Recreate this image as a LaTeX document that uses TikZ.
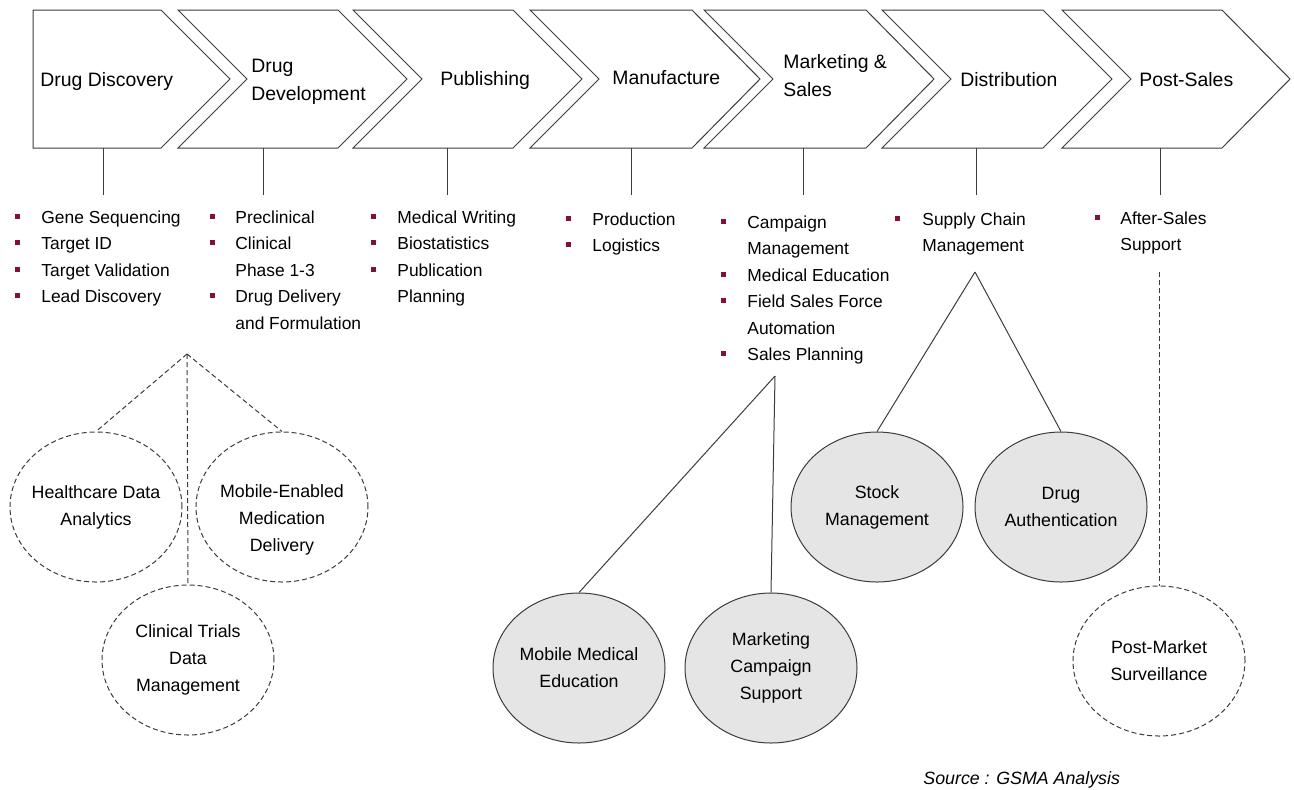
\documentclass[tikz,border=0pt]{standalone}
\usepackage{fontspec}
\setmainfont{Liberation Sans}
\usetikzlibrary{shapes.geometric}
\definecolor{bulletred}{RGB}{130,18,50}
\definecolor{linegray}{RGB}{60,60,60}
\definecolor{fillgray}{RGB}{229,229,229}

\begin{document}
\begin{tikzpicture}[x=0.5pt,y=0.5pt]
\tikzstyle{every node}+=[inner sep=0pt]
\tikzstyle{chevron}=[draw=linegray, line width=0.5pt]
\tikzstyle{link}=[draw=linegray, line width=0.5pt]
\tikzstyle{dashed link}=[link, dash pattern=on 2.5pt off 1.5pt]
\tikzstyle{stage}=[anchor=base west, align=left, font=\fontsize{9.7}{14.25}\selectfont]
\tikzstyle{items}=[anchor=base west, align=left, font=\fontsize{8.7}{13.25}\selectfont]
\tikzstyle{hub}=[ellipse, draw=linegray, line width=0.5pt, minimum width=86pt, minimum height=75pt, inner xsep=-5pt, align=center, font=\fontsize{8.9}{13.5}\selectfont]
\tikzstyle{solid hub}=[hub, fill=fillgray]
\tikzstyle{open hub}=[hub, dash pattern=on 2.5pt off 1.5pt]
\useasboundingbox (0,0) rectangle (1294,-789);
% value chain
\draw [chevron] (33,-10) -- (161,-10) -- (230,-79) -- (161,-148) -- (33,-148) -- cycle;
\draw [chevron] (178,-10) -- (338,-10) -- (407,-79) -- (338,-148) -- (178,-148) -- (247,-79) -- cycle;
\draw [chevron] (353,-10) -- (513,-10) -- (582,-79) -- (513,-148) -- (353,-148) -- (422,-79) -- cycle;
\draw [chevron] (530,-10) -- (692,-10) -- (760,-79) -- (692,-148) -- (530,-148) -- (599,-79) -- cycle;
\draw [chevron] (704,-10) -- (866,-10) -- (934,-79) -- (866,-148) -- (704,-148) -- (773,-79) -- cycle;
\draw [chevron] (882,-10) -- (1043,-10) -- (1112,-79) -- (1043,-148) -- (882,-148) -- (951,-79) -- cycle;
\draw [chevron] (1062,-10) -- (1222,-10) -- (1290,-79) -- (1222,-148) -- (1062,-148) -- (1131,-79) -- cycle;
% base anchor of a two-line node sits on its last line
\node [stage] (discovery) at (40,-86) {Drug Discovery};
\node [stage] (development) at (251,-100.5) {Drug\\Development};
\node [stage] (publishing) at (440,-85) {Publishing};
\node [stage] (manufacture) at (612,-84) {Manufacture};
\node [stage] (marketing) at (783,-96.5) {Marketing \&\\Sales};
\node [stage] (distribution) at (960,-86) {Distribution};
\node [stage] (postsales) at (1139,-86) {Post-Sales};
% stems below the chevrons
\coordinate (discovery foot) at (103,-148);
\coordinate (discovery head) at (103,-195);
\coordinate (development foot) at (263,-148);
\coordinate (development head) at (263,-195);
\coordinate (publishing foot) at (447,-148);
\coordinate (publishing head) at (447,-195);
\coordinate (manufacture foot) at (631,-148);
\coordinate (manufacture head) at (631,-195);
\coordinate (marketing foot) at (803,-148);
\coordinate (marketing head) at (803,-195);
\coordinate (distribution foot) at (976,-148);
\coordinate (distribution head) at (976,-195);
\coordinate (postsales foot) at (1160,-148);
\coordinate (postsales head) at (1160,-195);
\draw [link] (discovery foot) -- (discovery head);
\draw [link] (development foot) -- (development head);
\draw [link] (publishing foot) -- (publishing head);
\draw [link] (manufacture foot) -- (manufacture head);
\draw [link] (marketing foot) -- (marketing head);
\draw [link] (distribution foot) -- (distribution head);
\draw [link] (postsales foot) -- (postsales head);
% activity lists (placed by their last baseline)
\node [items] (discovery items) at (41,-302.5) {Gene Sequencing\\Target ID\\Target Validation\\Lead Discovery};
\node [items] (development items) at (235,-329) {Preclinical\\Clinical\\Phase 1-3\\Drug Delivery\\and Formulation};
\node [items] (publishing items) at (397,-302.5) {Medical Writing\\Biostatistics\\Publication\\Planning};
\node [items] (manufacture items) at (592,-251.5) {Production\\Logistics};
\node [items] (marketing items) at (747,-360.5) {Campaign\\Management\\Medical Education\\Field Sales Force\\Automation\\Sales Planning};
\node [items] (distribution items) at (922,-251.5) {Supply Chain\\Management};
\node [items] (postsales items) at (1120,-250.5) {After-Sales\\Support};
\fill [bulletred] (14.5,-213.5) rectangle +(5,-5);
\fill [bulletred] (14.5,-240) rectangle +(5,-5);
\fill [bulletred] (14.5,-266.5) rectangle +(5,-5);
\fill [bulletred] (14.5,-293) rectangle +(5,-5);
\fill [bulletred] (209.5,-213.5) rectangle +(5,-5);
\fill [bulletred] (209.5,-240) rectangle +(5,-5);
\fill [bulletred] (209.5,-293) rectangle +(5,-5);
\fill [bulletred] (370.5,-213.5) rectangle +(5,-5);
\fill [bulletred] (370.5,-240) rectangle +(5,-5);
\fill [bulletred] (370.5,-266.5) rectangle +(5,-5);
\fill [bulletred] (565.5,-215.5) rectangle +(5,-5);
\fill [bulletred] (565.5,-242) rectangle +(5,-5);
\fill [bulletred] (720.5,-218.5) rectangle +(5,-5);
\fill [bulletred] (720.5,-271.5) rectangle +(5,-5);
\fill [bulletred] (720.5,-298) rectangle +(5,-5);
\fill [bulletred] (720.5,-351) rectangle +(5,-5);
\fill [bulletred] (894.5,-215.5) rectangle +(5,-5);
\fill [bulletred] (1094.5,-214.5) rectangle +(5,-5);
% mobile health opportunities
\node [open hub] (analytics) at (96,-507) {Healthcare Data\\Analytics};
\node [open hub, label={[align=center, font=\fontsize{8.9}{13.5}\selectfont, yshift=-6.5pt]center:Mobile-Enabled\\Medication\\Delivery}] (medication) at (282,-507) {};
\node [open hub] (trials) at (188,-660) {Clinical Trials\\Data\\Management};
\node [solid hub] (mobile education) at (579,-668) {Mobile Medical\\Education};
\node [solid hub] (campaign support) at (771,-668) {Marketing\\Campaign\\Support};
\node [solid hub] (stock) at (877,-507) {Stock\\Management};
\node [solid hub] (authentication) at (1061,-507) {Drug\\Authentication};
\node [open hub] (surveillance) at (1159,-661) {Post-Market\\Surveillance};
\coordinate (discovery apex) at (187,-354);
\coordinate (marketing apex) at (775,-376);
\coordinate (distribution apex) at (975,-272);
\coordinate (postsales apex) at (1159,-272);
\draw [dashed link] (discovery apex) -- (analytics.north);
\draw [dashed link] (discovery apex) -- (medication.north);
\draw [dashed link] (discovery apex) -- (trials.north);
\draw [link] (marketing apex) -- (mobile education.north);
\draw [link] (marketing apex) -- (campaign support.north);
\draw [link] (distribution apex) -- (stock.north);
\draw [link] (distribution apex) -- (authentication.north);
\draw [dashed link] (postsales apex) -- (surveillance.north);
\node [anchor=base west, font=\fontsize{8.9}{10}\selectfont\itshape] (source) at (923,-784) {Source : GSMA Analysis};
\end{tikzpicture}
\end{document}
